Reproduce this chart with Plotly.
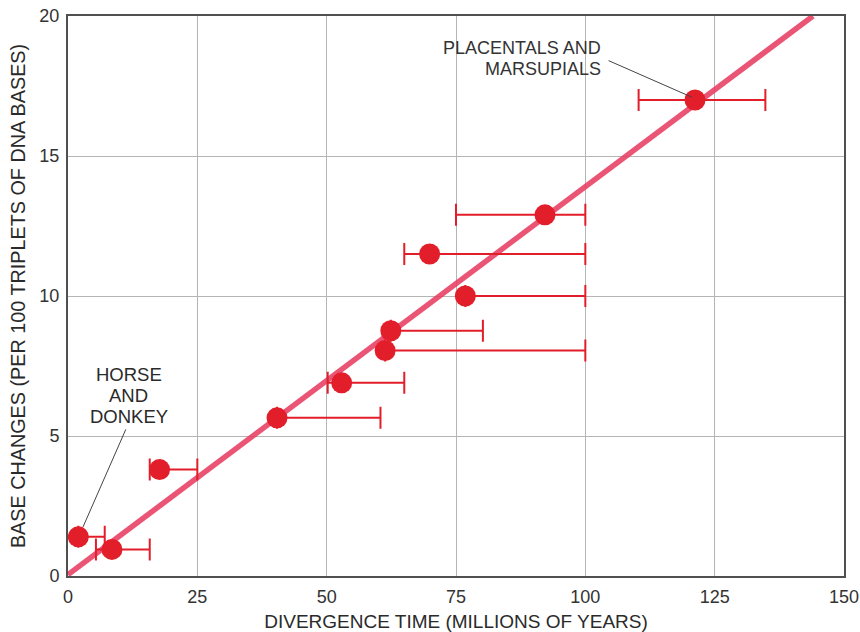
import plotly.graph_objects as go

# Divergence time (millions of years) and base changes per 100 triplets
div_time = [2, 8.5, 17.7, 40.4, 52.9, 61.3, 62.4, 76.8, 69.9, 92.2, 121.2]
base_changes = [1.4, 0.95, 3.8, 5.65, 6.9, 8.05, 8.76, 10.0, 11.5, 12.9, 17.0]
err_low = [2, 5.4, 15.8, 40.4, 50.2, 61.3, 62.4, 76.8, 65.0, 75.0, 110.3]
err_high = [7.1, 15.8, 25.0, 60.4, 65.0, 100.0, 80.2, 100.0, 100.0, 100.0, 134.8]

fit_x = [0, 144.0]
fit_y = [0.05, 20]

x_ticks = [0, 25, 50, 75, 100, 125, 150]
y_ticks = [0, 5, 10, 15, 20]

horse_lines = ["HORSE", "AND", "DONKEY"]
placental_lines = ["PLACENTALS AND", "MARSUPIALS"]

RED = "#e31e2b"
FONT = "Liberation Sans, Arial, sans-serif"
TXT = "#2a2a2a"

plus = [h - x for x, h in zip(div_time, err_high)]
minus = [x - l for x, l in zip(div_time, err_low)]

fig = go.Figure()
fig.add_trace(go.Scatter(
    x=fit_x, y=fit_y, mode="lines",
    line=dict(color="rgba(232,62,98,0.88)", width=5.5),
    hoverinfo="skip", showlegend=False))
fig.add_trace(go.Scatter(
    x=div_time, y=base_changes, mode="markers",
    marker=dict(color=RED, size=21, line=dict(width=0)),
    error_x=dict(type="data", array=plus, arrayminus=minus, symmetric=False,
                 color=RED, thickness=2, width=11),
    showlegend=False))

# leader lines
fig.add_annotation(x=2.9, y=1.75, ax=11.3, ay=5.29, axref="x", ayref="y",
                   text="", showarrow=True, arrowhead=0, arrowwidth=1,
                   arrowcolor="#444", standoff=0, startstandoff=0)
fig.add_annotation(x=120.6, y=17.1, ax=104.2, ay=18.43, axref="x", ayref="y",
                   text="", showarrow=True, arrowhead=0, arrowwidth=1,
                   arrowcolor="#444", standoff=0, startstandoff=0)

# labels, one annotation per line
horse_y = [7.18, 6.43, 5.68]
for t, yy in zip(horse_lines, horse_y):
    fig.add_annotation(x=11.73, y=yy, text=t, showarrow=False,
                       xanchor="center", yanchor="middle",
                       font=dict(family=FONT, size=18.5, color=TXT))
plac_y = [18.84, 18.12]
for t, yy in zip(placental_lines, plac_y):
    fig.add_annotation(x=103.4, y=yy, text=t, showarrow=False,
                       xanchor="right", yanchor="middle",
                       font=dict(family=FONT, size=18, color="#333"))

axis_common = dict(showgrid=True, gridcolor="#b5b5b5", gridwidth=1, zeroline=False,
                   showline=True, linecolor="#505050", linewidth=2, mirror=True,
                   ticks="", automargin=False, tickfont=dict(size=18, color="#333"))

fig.update_layout(
    width=860, height=632,
    margin=dict(l=68, r=16, t=16, b=56),
    paper_bgcolor="white", plot_bgcolor="white",
    font=dict(family=FONT, size=19, color=TXT),
    xaxis=dict(range=[0, 150], tickvals=x_ticks, ticklabelstandoff=3,
               ticklabeloverflow="allow",
               title=dict(text="DIVERGENCE TIME (MILLIONS OF YEARS)", standoff=10,
                          font=dict(size=19, color=TXT)),
               **axis_common),
    yaxis=dict(range=[0, 20], tickvals=y_ticks, ticklabelstandoff=3,
               title=dict(text="BASE CHANGES (PER 100 TRIPLETS OF DNA BASES)", standoff=8,
                          font=dict(size=19.8, color=TXT)),
               **axis_common),
)

fig.write_html("out.html")
